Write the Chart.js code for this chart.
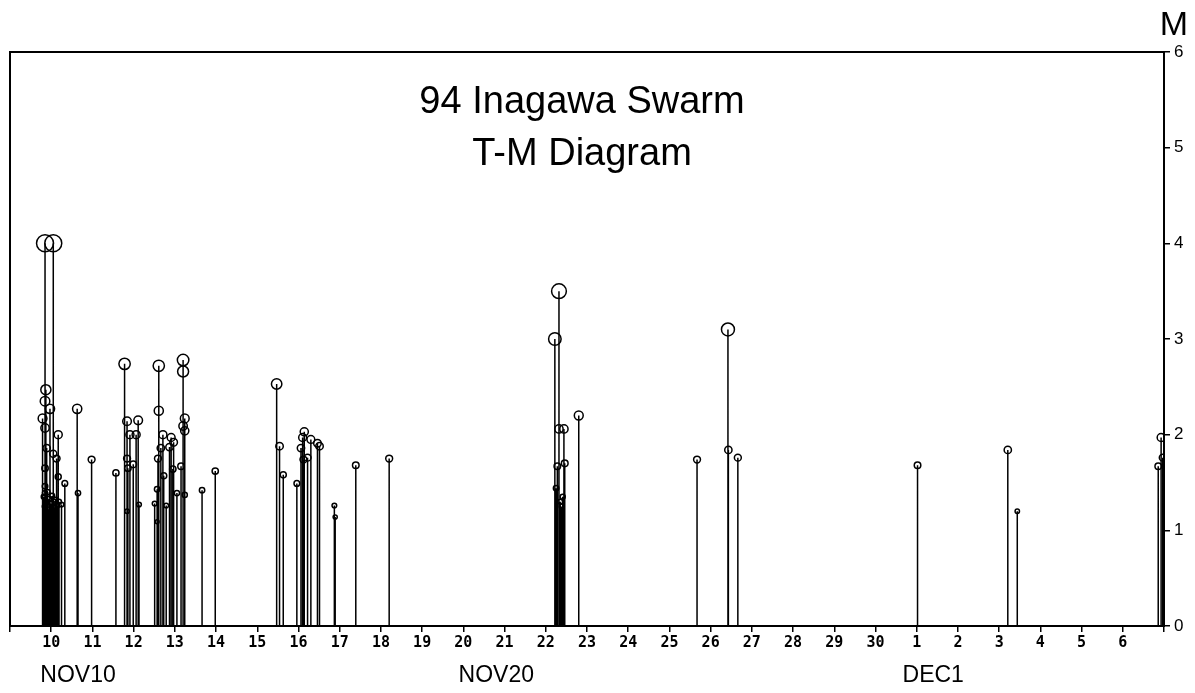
<!DOCTYPE html>
<html>
<head>
<meta charset="utf-8">
<script src="https://cdn.jsdelivr.net/npm/chart.js@4"></script>
<style>
  html, body { margin: 0; padding: 0; background: #fff; }
  canvas { display: block; }
</style>
</head>
<body>
<canvas id="tm" width="1195" height="693"></canvas>
<script>
// event time in days of Nov 1994 (Dec 1 = 31) and magnitude
const times = [
  9.85, 10.05, 9.87, 9.85, 9.97, 9.79, 9.85, 10.17, 9.89, 10.05, 10.13, 9.85,
  10.17, 9.85, 9.85, 10.09, 10.25, 10.33, 10.63, 10.65, 10.98,
  9.82, 9.84, 9.88, 9.91, 9.93, 9.95, 9.99, 10.02, 10.07, 10.11, 10.15, 10.19,
  11.57, 11.78, 11.84, 11.91, 11.84, 11.99, 11.86, 12.11, 12.06, 12.13, 11.84,
  12.61, 12.61, 12.71, 12.66, 12.59, 12.51, 12.57, 12.57, 12.73, 12.79,
  12.91, 12.87, 12.97, 12.95, 13.05, 13.20, 13.20, 13.24, 13.20, 13.24, 13.15, 13.24,
  13.66, 13.98,
  15.47, 15.54, 15.63, 15.96, 16.14, 16.10, 16.06, 16.22, 16.12, 16.30, 16.46, 16.51,
  16.87, 16.89, 17.39, 18.20,
  22.32, 22.22, 22.32, 22.44, 22.46, 22.28, 22.25, 22.80, 22.35, 22.38, 22.41,
  25.67, 26.42, 26.43, 26.66,
  31.02, 33.21, 33.44, 36.93, 36.86, 36.97
];
const mags = [
  4.0, 4.0, 2.47, 2.35, 2.27, 2.17, 2.07, 2.0, 1.86, 1.80, 1.75, 1.65,
  1.56, 1.46, 1.39, 1.30, 1.27, 1.49, 2.27, 1.39, 1.74,
  1.35, 1.25, 1.30, 1.40, 1.22, 1.33, 1.28, 1.36, 1.24, 1.32, 1.26, 1.30,
  1.60, 2.74, 2.14, 2.0, 1.75, 1.69, 1.65, 2.15, 2.0, 1.27, 1.2,
  2.72, 2.25, 2.0, 1.86, 1.75, 1.28, 1.09, 1.43, 1.57, 1.26,
  1.97, 1.87, 1.92, 1.64, 1.39, 2.78, 2.66, 2.17, 2.09, 2.04, 1.67, 1.37,
  1.42, 1.62,
  2.53, 1.88, 1.58, 1.49, 2.03, 1.97, 1.86, 1.76, 1.74, 1.95, 1.91, 1.88,
  1.26, 1.14, 1.68, 1.75,
  3.50, 3.00, 2.06, 2.06, 1.70, 1.67, 1.44, 2.20, 1.30, 1.25, 1.35,
  1.74, 3.10, 1.84, 1.76,
  1.68, 1.84, 1.20, 1.97, 1.67, 1.76
];

const xMin = 9, xMax = 37;
const magTicks = [0, 1, 2, 3, 4, 5, 6];
const titleLines = ["94 Inagawa Swarm", "T-M Diagram"];
const monthLabels = ["NOV10", "NOV20", "DEC1"];
const monthLabelAt = [10.65, 20.8, 31.4];

// stems: bottom -> top, then a gap
const stemData = [];
times.forEach((t, i) => {
  stemData.push({ x: t, y: 0 }, { x: t, y: mags[i] }, { x: t, y: null });
});
const pointData = times.map((t, i) => ({ x: t, y: mags[i] }));

const extras = {
  id: "extras",
  afterDraw(chart) {
    const c = chart.ctx, a = chart.chartArea, xs = chart.scales.x;
    c.save();
    c.strokeStyle = "#000";
    c.lineWidth = 2;
    c.strokeRect(a.left, a.top, a.right - a.left, a.bottom - a.top);
    c.fillStyle = "#000";
    c.textAlign = "center";
    c.textBaseline = "middle";
    c.font = "38px 'Liberation Sans', Arial, sans-serif";
    c.fillText(titleLines[0], 582, 103);
    c.fillText(titleLines[1], 582, 155);
    c.font = "23px 'Liberation Sans', Arial, sans-serif";
    monthLabels.forEach((s, i) => {
      c.fillText(s, xs.getPixelForValue(monthLabelAt[i]), 676);
    });
    c.font = "34px 'Liberation Sans', Arial, sans-serif";
    c.fillText("M", 1174, 26);
    c.restore();
  }
};

new Chart(document.getElementById("tm"), {
  type: "scatter",
  data: {
    datasets: [
      {
        data: stemData,
        showLine: true,
        spanGaps: false,
        borderColor: "#000",
        borderWidth: 1.5,
        pointRadius: 0,
        order: 2
      },
      {
        data: pointData,
        pointRadius: (ctx) => 2.25 * ctx.raw.y - 0.5,
        pointBorderColor: "#000",
        pointBackgroundColor: "rgba(0,0,0,0)",
        pointBorderWidth: 1.5,
        order: 1
      }
    ]
  },
  options: {
    responsive: false,
    animation: false,
    layout: { padding: { left: 8, top: 52, right: 0, bottom: 0 } },
    plugins: { legend: { display: false }, tooltip: { enabled: false } },
    scales: {
      x: {
        type: "linear",
        min: xMin,
        max: xMax,
        afterFit: (s) => { s.height = 67; },
        border: { color: "#000", width: 2 },
        grid: { drawOnChartArea: false, color: "#000", tickLength: 6, lineWidth: 1.5 },
        ticks: {
          stepSize: 1,
          autoSkip: false,
          maxRotation: 0,
          padding: 2,
          color: "#000",
          font: { family: "'DejaVu Sans Mono', monospace", size: 15, weight: "bold" },
          callback: (v) => (v < 10 || v > 36) ? "" : String(v > 30 ? v - 30 : v)
        }
      },
      y: {
        position: "right",
        min: 0,
        max: 6,
        afterFit: (s) => { s.width = 31; },
        afterBuildTicks: (s) => { s.ticks = magTicks.map((v) => ({ value: v })); },
        border: { color: "#000", width: 2 },
        grid: { drawOnChartArea: false, color: "#000", tickLength: 6, lineWidth: 1.5 },
        ticks: {
          padding: 4,
          color: "#000",
          font: { family: "'Liberation Sans', Arial, sans-serif", size: 17 }
        }
      }
    }
  },
  plugins: [extras]
});
</script>
</body>
</html>
